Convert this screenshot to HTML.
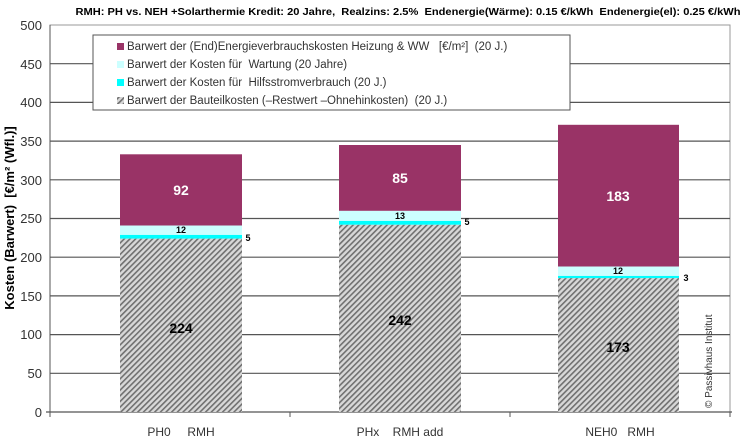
<!DOCTYPE html><html><head><meta charset="utf-8"><style>body{margin:0;background:#fff}svg{display:block}text{font-family:"Liberation Sans",sans-serif;white-space:pre}</style></head><body>
<svg width="750" height="443" viewBox="0 0 750 443" xml:space="preserve">
<defs><pattern id="h" width="4" height="4" patternUnits="userSpaceOnUse" patternTransform="rotate(45)"><rect width="4" height="4" fill="#d8d8d8"/><rect width="1.6" height="4" fill="#707070"/></pattern></defs>
<text x="408" y="15" font-size="10.5" font-weight="bold" text-anchor="middle" textLength="665" lengthAdjust="spacingAndGlyphs">RMH: PH vs. NEH +Solarthermie Kredit: 20 Jahre,  Realzins: 2.5%  Endenergie(Wärme): 0.15 €/kWh  Endenergie(el): 0.25 €/kWh</text>
<rect x="50" y="25" width="680" height="387" fill="none" stroke="#999"/>
<g stroke="#555" stroke-width="1.2">
<line x1="50" y1="373.3" x2="730" y2="373.3"/><line x1="50" y1="334.6" x2="730" y2="334.6"/><line x1="50" y1="295.9" x2="730" y2="295.9"/><line x1="50" y1="257.2" x2="730" y2="257.2"/><line x1="50" y1="218.5" x2="730" y2="218.5"/><line x1="50" y1="179.8" x2="730" y2="179.8"/><line x1="50" y1="141.1" x2="730" y2="141.1"/><line x1="50" y1="102.4" x2="730" y2="102.4"/><line x1="50" y1="63.7" x2="730" y2="63.7"/>
</g>
<line x1="50" y1="25" x2="50" y2="412" stroke="#555"/>
<line x1="46" y1="412" x2="732" y2="412" stroke="#555" stroke-width="1.2"/>
<g stroke="#555"><line x1="290" y1="412" x2="290" y2="417"/><line x1="510" y1="412" x2="510" y2="417"/><line x1="730" y1="412" x2="730" y2="417"/><line x1="50" y1="412" x2="50" y2="417"/></g>
<g font-size="13" fill="#333" text-anchor="end">
<text x="42" y="417">0</text><text x="42" y="378">50</text><text x="42" y="339">100</text><text x="42" y="301">150</text><text x="42" y="262">200</text><text x="42" y="223">250</text><text x="42" y="185">300</text><text x="42" y="146">350</text><text x="42" y="107">400</text><text x="42" y="69">450</text><text x="42" y="30">500</text></g>
<text transform="translate(14,218) rotate(-90)" font-size="13" font-weight="bold" text-anchor="middle">Kosten (Barwert)  [€/m² (Wfl.)]</text>
<rect x="120" y="238.6" width="122" height="173.4" fill="url(#h)"/><rect x="120" y="234.8" width="122" height="3.8" fill="#00ffff"/><rect x="120" y="225.5" width="122" height="9.3" fill="#ccffff"/><rect x="120" y="154.3" width="122" height="71.2" fill="#993366"/>
<rect x="339" y="224.7" width="122" height="187.3" fill="url(#h)"/><rect x="339" y="220.8" width="122" height="3.9" fill="#00ffff"/><rect x="339" y="210.8" width="122" height="10" fill="#ccffff"/><rect x="339" y="145" width="122" height="65.8" fill="#993366"/>
<rect x="558" y="278.1" width="121" height="133.9" fill="url(#h)"/><rect x="558" y="275.8" width="121" height="2.3" fill="#00ffff"/><rect x="558" y="266.5" width="121" height="9.3" fill="#ccffff"/><rect x="558" y="124.8" width="121" height="141.7" fill="#993366"/>
<g font-weight="bold" text-anchor="middle">
<text x="181" y="195" font-size="14" fill="#fff">92</text><text x="400" y="183" font-size="14" fill="#fff">85</text><text x="618" y="201" font-size="14" fill="#fff">183</text>
<text x="181" y="333" font-size="14">224</text><text x="400" y="325" font-size="14">242</text><text x="618" y="352" font-size="14">173</text>
<text x="181" y="233" font-size="9">12</text><text x="400" y="219" font-size="9">13</text><text x="618" y="274" font-size="9">12</text>
<text x="248" y="241" font-size="9">5</text><text x="467" y="225" font-size="9">5</text><text x="686" y="281" font-size="9">3</text></g>
<g font-size="12" fill="#333" text-anchor="middle"><text x="181" y="436">PH0     RMH</text><text x="400" y="436">PHx    RMH add</text><text x="620" y="436">NEH0   RMH</text></g>
<text transform="translate(712,408) rotate(-90)" font-size="10" fill="#333">© Passivhaus Institut</text>
<rect x="93" y="35" width="477" height="75" fill="#fff" stroke="#555"/>
<g font-size="11.5" fill="#333">
<rect x="117" y="43" width="7" height="7" fill="#993366"/><text x="127" y="50">Barwert der (End)Energieverbrauchskosten Heizung &amp; WW   [€/m²]  (20 J.)</text>
<rect x="117" y="61" width="7" height="7" fill="#ccffff"/><text x="127" y="68">Barwert der Kosten für  Wartung (20 Jahre)</text>
<rect x="117" y="79" width="7" height="7" fill="#00ffff"/><text x="127" y="86">Barwert der Kosten für  Hilfsstromverbrauch (20 J.)</text>
<rect x="117" y="97" width="7" height="7" fill="url(#h)"/><text x="127" y="104">Barwert der Bauteilkosten (–Restwert –Ohnehinkosten)  (20 J.)</text></g>
</svg></body></html>
